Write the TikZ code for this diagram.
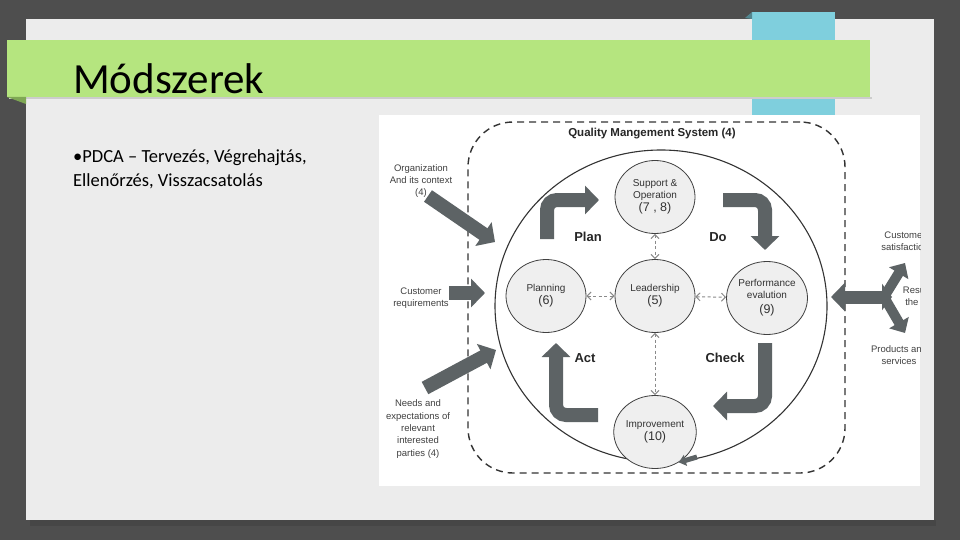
\documentclass[tikz,border=0pt]{standalone}
\usepackage{fontspec}
\setmainfont{Carlito}
\newfontfamily\diafont{Liberation Sans}
\usetikzlibrary{arrows.meta,shapes.geometric,positioning}
\definecolor{slidebg}{HTML}{4E4E4E}
\definecolor{cardgray}{HTML}{ECECEC}
\definecolor{titlegreen}{HTML}{B5E57F}
\definecolor{foldgreen}{HTML}{7FA854}
\definecolor{ribboncyan}{HTML}{7FCFDD}
\definecolor{arrowgray}{HTML}{5D6365}
\definecolor{nodefill}{HTML}{EFEFEF}
\definecolor{linkgray}{HTML}{8A8A8A}

\begin{document}
\begin{tikzpicture}[x=1pt,y=-1pt,>={Triangle[length=14pt,width=28pt]},
                    font=\diafont]
\tikzstyle{proc}=[ellipse,draw=black!75,thick,fill=nodefill,minimum width=80pt,minimum height=73pt,inner sep=0pt,align=center,text=black!80,font=\diafont\fontsize{10}{12}\selectfont]
\tikzstyle{phase}=[text=black!85,font=\diafont\bfseries\fontsize{13}{15}\selectfont]
\tikzstyle{extern}=[align=center,text=black!75,font=\diafont\fontsize{9.5}{12.4}\selectfont]
\tikzstyle{flow}=[->,arrowgray,line width=14pt,rounded corners=10pt]
\tikzstyle{outflow}=[arrowgray,line width=10pt,-{Triangle[length=12pt,width=22pt]}]
\tikzstyle{link}=[linkgray,line width=1pt,dash pattern=on 3pt off 2.5pt,{Straight Barb[length=4pt,width=8pt]}-{Straight Barb[length=4pt,width=8pt]}]

\useasboundingbox (0,0) rectangle (960,540);
\fill[slidebg] (0,0) rectangle (960,540);
\fill[black!75,opacity=0.5] (30,520) rectangle (936,526);
\fill[cardgray] (26,19) rectangle (934,520);
\fill[ribboncyan] (752,12) rectangle (835,115);
\fill[ribboncyan!65!black] (745,18) -- (752,12) -- (752,19) -- cycle;
\fill[black!20] (9,97) rectangle (872,99);
\fill[titlegreen] (7,40) rectangle (870,97);
\fill[foldgreen] (7,97) -- (26,97) -- (26,104) -- cycle;

\node[anchor=base west,inner sep=0pt,font=\fontsize{43}{50}\selectfont] (title) at (73,94) {Módszerek};
\node[anchor=base west,inner sep=0pt,font=\fontsize{18.5}{23}\selectfont] (bullet1) at (73,163) {•PDCA – Tervezés, Végrehajtás,};
\node[anchor=base west,inner sep=0pt,font=\fontsize{18.5}{23}\selectfont] (bullet2) at (73,186) {Ellenőrzés, Visszacsatolás};

\fill[white] (379,115) rectangle (920,486);

\node[draw=black!80,line width=1.4pt,dash pattern=on 7pt off 5pt,rounded corners=45pt,minimum width=377pt,minimum height=351pt] (qmsbox) at (656.5,297.5) {};
\node[font=\diafont\bfseries\fontsize{11.5}{13}\selectfont,text=black!85] (qmstitle) at (652,134) {Quality Mangement System (4)};
\node[ellipse,draw=black!80,line width=1.1pt,minimum width=332pt,minimum height=312pt] (qmsring) at (661,306) {};

\coordinate (plan-tail) at (547,239);
\coordinate (plan-bend) at (547,200);
\coordinate (plan-head) at (599,200);
\coordinate (do-tail) at (723,200);
\coordinate (do-bend) at (765,200);
\coordinate (do-head) at (765,250);
\coordinate (check-tail) at (765,343);
\coordinate (check-bend) at (765,406);
\coordinate (check-head) at (713,406);
\coordinate (act-tail) at (598,415);
\coordinate (act-bend) at (556,415);
\coordinate (act-head) at (556,343);

\draw[flow] (plan-tail) -- (plan-bend) -- (plan-head);
\draw[flow] (do-tail) -- (do-bend) -- (do-head);
\draw[flow] (check-tail) -- (check-bend) -- (check-head);
\draw[flow] (act-tail) -- (act-bend) -- (act-head);

\node[phase] (plan) at (588,237) {Plan};
\node[phase] (do) at (718,237) {Do};
\node[phase] (act) at (585,358) {Act};
\node[phase] (check) at (725,358) {Check};

\node[proc] (support) at (655,197) {Support \&\\Operation\\[1pt]{\fontsize{12.5}{14}\selectfont(7 , 8)}};
\node[proc] (leader) at (655,296) {Leadership\\[1pt]{\fontsize{12.5}{14}\selectfont(5)}};
\node[proc] (planning) at (546,296) {Planning\\[1pt]{\fontsize{12.5}{14}\selectfont(6)}};
\node[proc] (perform) at (767,298) {Performance\\evalution\\[3pt]{\fontsize{12.5}{14}\selectfont(9)}};
\node[proc] (improve) at (655,432) {Improvement\\[1pt]{\fontsize{12.5}{14}\selectfont(10)}};

\draw[link] (support) -- (leader);
\draw[link] (planning) -- (leader);
\draw[link] (leader) -- (perform);
\draw[link] (leader) -- (improve);

\coordinate (ring-end) at (697,457);
\draw[arrowgray,line width=5pt,-{Triangle[length=7pt,width=11pt]}] (ring-end) -- (improve.-52);

\node[extern] (context) at (421,181) {Organization\\And its context\\(4)};
\node[extern] (custreq) at (421,298) {Customer\\requirements};
\node[extern] (needs) at (418,429) {Needs and\\expectations of\\relevant\\interested\\parties (4)};

\coordinate (context-tail) at (428,196);
\coordinate (context-head) at (495,242);
\coordinate (custreq-tail) at (449,293);
\coordinate (custreq-head) at (485,293);
\coordinate (needs-tail) at (425,388);
\coordinate (needs-head) at (496,350);
\draw[flow] (context-tail) -- (context-head);
\draw[flow] (custreq-tail) -- (custreq-head);
\draw[flow] (needs-tail) -- (needs-head);

\coordinate (result-left) at (831,297);
\coordinate (result-right) at (892,297);
\coordinate (result-joint) at (884,297);
\coordinate (result-up) at (905,263);
\coordinate (result-down) at (905,333);
\draw[outflow] (result-joint) -- (result-up);
\draw[outflow] (result-joint) -- (result-down);
\draw[arrowgray,line width=13pt,{Triangle[length=14pt,width=28pt]}-{Triangle[length=10pt,width=26pt]}] (result-left) -- (result-right);

\begin{scope}
\clip (379,115) rectangle (920,486);
\node[extern] (satisfy) at (905,241) {Customer\\satisfaction};
\node[extern] (results) at (924,297) {Results of\\the QMS};
\node[extern] (products) at (899,355) {Products and\\services};
\end{scope}
\end{tikzpicture}
\end{document}
